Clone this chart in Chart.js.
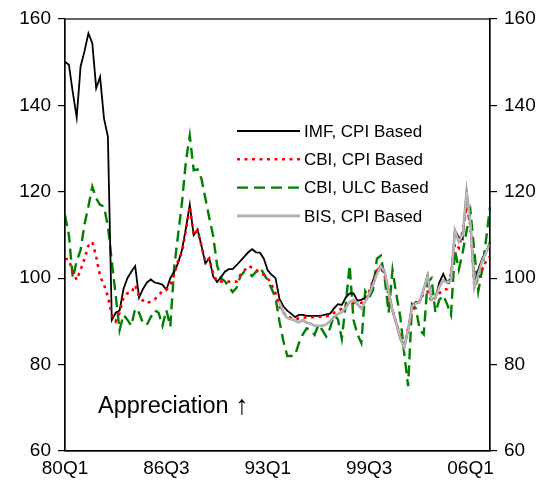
<!DOCTYPE html>
<html><head><meta charset="utf-8">
<script src="https://cdn.jsdelivr.net/npm/chart.js@4.4.1/dist/chart.umd.min.js"></script>
<style>html,body{margin:0;padding:0;background:#fff}#wrap{width:543px;height:494px;position:relative}</style>
</head><body><div id="wrap"><canvas id="c"></canvas></div>
<script>
// categories: quarters 80Q1 .. 07Q2
const quarters = [];
for (let y = 1980; y <= 2007; y++) for (let q = 1; q <= 4; q++) quarters.push(String(y % 100).padStart(2, '0') + 'Q' + q);
quarters.length = 110;
const tickLabels = ['80Q1', '86Q3', '93Q1', '99Q3', '06Q1'];
const yTicks = [60, 80, 100, 120, 140, 160];

const imfCpi = [
 150.1,149.4,143,137.2,149,152.5,156.7,154.4,144,146.6,
 137,132.8,90.3,92,92.5,97.5,100,101.5,102.8,95.5,
 97.5,99,99.7,99,98.8,98.5,97.3,100,101.5,103.5,
 106.5,111.5,117,110,111.3,107.5,103.4,104.6,100.4,99.1,
 100.2,101.5,102.1,102.1,103,104,105,106,106.7,106,
 105.9,104.5,101.8,100.8,100,95.2,93.5,92.5,91.8,91,
 91.5,91.5,91.3,91.3,91.3,91.3,91.4,91.6,91.8,93,
 94,93.8,95.5,96.5,96.5,94.8,95,95.5,96,99.5,
 101.5,103,101.5,97,92.5,89.5,86,84,88,93.5,
 94.5,94.5,97.5,100.7,95,95.5,99,101,99,100,
 111,109.5,109,120,113,98.5,102,104.5,106,108.5
];
const cbiCpi = [
 104.6,104.2,101.5,99.6,101.9,104.5,107.5,108.4,105,100.4,
 98.5,95.8,91.5,90,92,95.5,96.5,96.6,98.4,95.8,
 94.8,94.2,94.6,95.1,96,97,97.3,98.5,100.8,104,
 106,111,116.6,110,111,107.5,103.8,104.6,101,99.2,
 99.2,99.3,99.2,99.2,99.2,100.8,101.8,102.8,102.5,101.8,
 101.2,100.8,100,98.5,96.5,93.5,92,91.2,90.8,90.5,
 90.7,90.8,91,91,91,91,91.1,91.2,91.4,92,
 92.4,93,93.6,94.2,94.3,94.2,94.3,94.8,96.8,99.5,
 101.8,102.5,100.5,96,92.5,89.5,86.5,84.1,88.5,92.3,
 93.8,94.8,96.5,96.9,94.6,95.5,96.5,97.3,97.5,101,
 108,107,111,116.6,112,98,100,102,104,105
];
const cbiUlc = [
 114.6,110,100,104,106.5,112.5,116.6,121.2,118.5,117,
 116.6,112,104,96,88,91.5,90.4,89,93,92,
 89.6,89.2,91,92.6,92,89,92.6,88.8,102.5,110,
 117.5,127,133,125,125.2,123,118.5,114,109.8,103,
 100,99.3,98,96.8,97.8,100.5,101.5,101.2,100.5,101.5,
 102.5,101,99.5,97.5,95.5,90,85.5,82,82,82.2,
 85,87,88.4,88,86.9,89.2,88,86.5,88.5,91.5,
 90.5,86,94,103,90.3,87,85,97,95.5,97.3,
 104.5,105.2,100,92,101.9,96.1,91,82.6,75,94,
 93,88,87,99,100,92,95,96,94,91.5,
 106.5,102,106,111,115.4,106,97,102,109,116.5
];
const bisCpi = [
 null,null,null,null,null,null,null,null,null,null,
 null,null,null,null,null,null,null,null,null,null,
 null,null,null,null,null,null,null,null,null,null,
 null,null,null,null,null,null,null,null,null,null,
 null,null,null,null,null,null,null,null,null,null,
 null,null,null,null,null,94.5,92,90.8,90.5,90.2,
 89.8,90.3,89.7,89.5,89,89,89,89.3,90,91,
 91.7,92.2,93.2,94.5,95,94,93,94.6,96.2,98.5,
 101,102.8,101.5,97,92.5,89.5,86,84,88,93.5,
 94.2,94.5,97.5,100.5,95,95.5,98,99.5,99,99.5,
 111,108.5,110,120,112.5,98,101,104,106,108
];
const seriesNames = ['IMF, CPI Based', 'CBI, CPI Based', 'CBI, ULC Based', 'BIS, CPI Based'];
const noteText = 'Appreciation ';
const noteArrow = '\u2191';

const FONT = "'Liberation Sans', Arial, sans-serif";
const BIS_TEX = 'rgba(255,255,255,0.6)';

const boxPlugin = {
  id: 'box',
  afterDatasetsDraw(chart) {
    const {ctx, chartArea: a} = chart;
    ctx.save();
    // BIS texture
    const meta = chart.getDatasetMeta(3);
    ctx.beginPath();
    let started = false;
    meta.data.forEach((p, i) => {
      if (bisCpi[i] == null) return;
      if (!started) { ctx.moveTo(p.x, p.y); started = true; } else ctx.lineTo(p.x, p.y);
    });
    ctx.strokeStyle = BIS_TEX;
    ctx.lineWidth = 1;
    ctx.setLineDash([1, 1]);
    ctx.stroke();
    ctx.setLineDash([]);
    // frame
    ctx.strokeStyle = '#000';
    ctx.lineWidth = 1.2;
    ctx.strokeRect(a.left, a.top, a.right - a.left, a.bottom - a.top);
    // legend
    const ds = chart.data.datasets;
    ctx.font = '17px ' + FONT;
    ctx.textBaseline = 'middle';
    ctx.textAlign = 'left';
    for (let k = 0; k < ds.length; k++) {
      const y = 131 + k * 28.3;
      ctx.beginPath();
      ctx.moveTo(237, y); ctx.lineTo(300, y);
      ctx.strokeStyle = ds[k].borderColor;
      ctx.lineWidth = ds[k].borderWidth;
      ctx.setLineDash(ds[k].borderDash || []);
      ctx.stroke();
      if (k === 3) {
        ctx.strokeStyle = BIS_TEX;
        ctx.lineWidth = 1; ctx.setLineDash([1, 1]); ctx.stroke();
      }
      ctx.setLineDash([]);
      ctx.fillStyle = '#000';
      ctx.fillText(ds[k].label, 304, y + 1);
    }
    // note
    ctx.font = '23.5px ' + FONT;
    ctx.textBaseline = 'alphabetic';
    ctx.fillText(noteText, 98, 413);
    const w = ctx.measureText(noteText).width;
    ctx.font = '27px ' + FONT;
    ctx.fillText(noteArrow, 98 + w, 414);
    ctx.restore();
  }
};

const yAxis = (pos, w) => ({
  position: pos, min: 60, max: 160,
  afterBuildTicks(s) { s.ticks = yTicks.map(v => ({value: v})); },
  ticks: {color: '#000', padding: 7, font: {size: 19, family: FONT}},
  grid: {drawOnChartArea: false, drawTicks: true, tickLength: 7, color: '#000', lineWidth: 1.2},
  border: {display: true, color: '#000', width: 1.2},
  afterFit(s) { s.width = w; }
});

new Chart(document.getElementById('c'), {
  type: 'line',
  data: {
    labels: quarters,
    datasets: [
      {label: seriesNames[0], data: imfCpi, borderColor: '#000', borderWidth: 1.8, order: 2},
      {label: seriesNames[1], data: cbiCpi, borderColor: '#ff0000', borderWidth: 2.6, borderDash: [3, 4.5], order: 1},
      {label: seriesNames[2], data: cbiUlc, borderColor: '#008000', borderWidth: 2.4, borderDash: [11, 6], order: 3},
      {label: seriesNames[3], data: bisCpi, borderColor: '#a4a4a4', borderWidth: 2.6, order: 0}
    ]
  },
  options: {
    responsive: true, maintainAspectRatio: false, animation: false,
    devicePixelRatio: 1,
    layout: {padding: {top: 19, left: 0, right: 0, bottom: 0}},
    elements: {point: {radius: 0, hoverRadius: 0}, line: {tension: 0, fill: false}},
    plugins: {legend: {display: false}, tooltip: {enabled: false}},
    scales: {
      x: {
        type: 'category', offset: false,
        grid: {display: false, drawTicks: false},
        border: {display: true, color: '#000', width: 1.2},
        ticks: {
          autoSkip: false, maxRotation: 0, minRotation: 0, padding: 6, color: '#000',
          font: {size: 19, family: FONT},
          callback(v) { const l = this.getLabelForValue(v); return tickLabels.includes(l) ? l : ''; }
        },
        afterFit(s) { s.height = 43; }
      },
      y: yAxis('left', 65),
      y2: yAxis('right', 53)
    }
  },
  plugins: [boxPlugin]
});
</script></body></html>
